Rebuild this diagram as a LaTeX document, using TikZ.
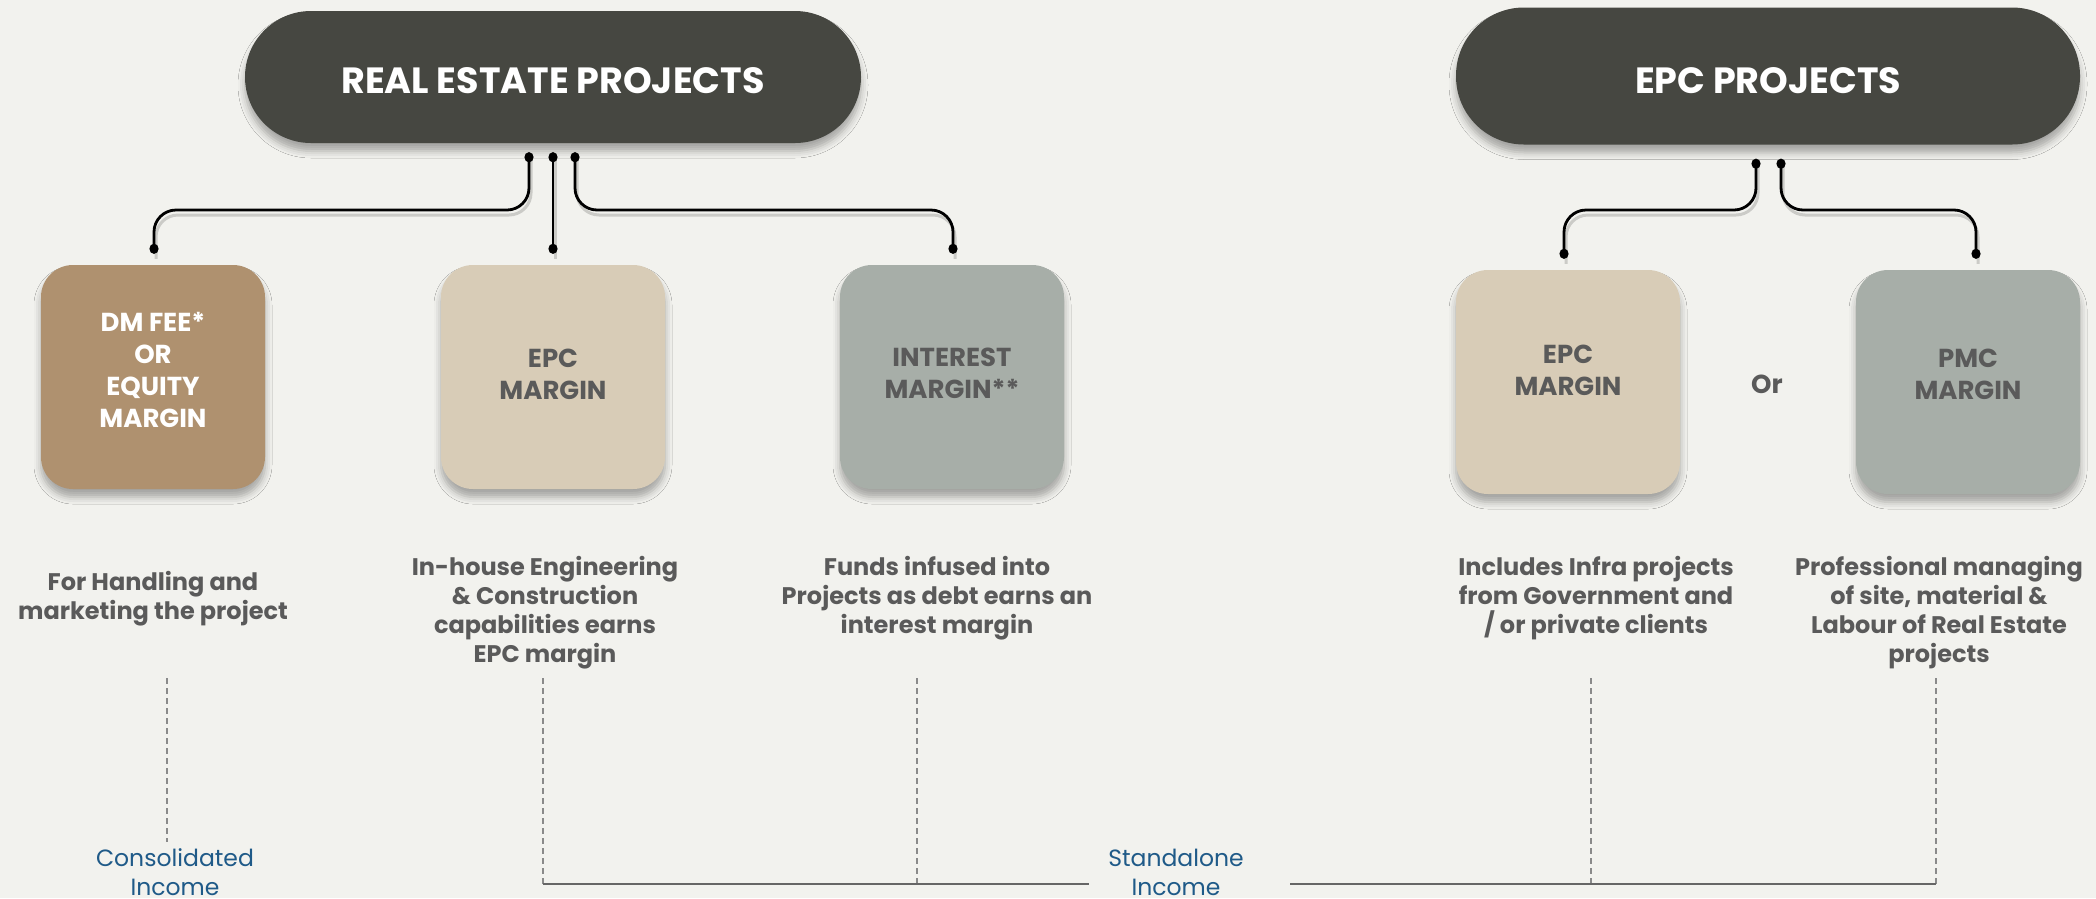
\documentclass[tikz,border=0pt]{standalone}
\usepackage{fontspec}
\setmainfont{Poppins}
\usetikzlibrary{calc,arrows.meta,shadows.blur}

\definecolor{bgcol}{HTML}{F2F2EE}
\definecolor{darkbox}{HTML}{464741}
\definecolor{tanbox}{HTML}{AF916F}
\definecolor{sandbox}{HTML}{D8CCB7}
\definecolor{sagebox}{HTML}{A7AEA8}
\definecolor{boxtext}{HTML}{5A5A5A}
\definecolor{incomeblue}{HTML}{1F5A88}
\definecolor{guidegray}{HTML}{8A8A8A}

\tikzset{
  softshadow/.style={blur shadow={shadow xshift=0pt, shadow yshift=-8pt,
      shadow blur radius=7pt, shadow opacity=32}},
  headbox/.style={fill=darkbox, rounded corners=66pt, minimum width=616pt,
      minimum height=132pt, softshadow},
  headtext/.style={text=white, font=\bfseries\fontsize{36.5}{42}\selectfont},
  marginbox/.style={rounded corners=32pt, minimum width=224pt, minimum height=224pt,
      softshadow},
  boxlabel/.style={align=center, text=boxtext, font=\bfseries\fontsize{26}{32}\selectfont,
      text depth=0pt},
  desc/.style={align=center, text=boxtext, font=\bfseries\fontsize{24}{29}\selectfont},
  income/.style={align=center, text=incomeblue, font=\fontsize{23.5}{29}\selectfont},
  link/.style={line width=2.8pt, black, rounded corners=22pt,
      {Circle[length=10pt,width=9pt]}-{Circle[length=10pt,width=9pt]}},
  linkshadow/.style={line width=3pt, black, opacity=0.16, rounded corners=22pt},
  guide/.style={guidegray, line width=1.2pt, dash pattern=on 6pt off 4pt},
  baseline/.style={black!60, line width=1.6pt},
}

\begin{document}
\begin{tikzpicture}[x=1pt,y=-1pt]
  % canvas
  \fill[bgcol] (0,0) rectangle (2096,898);
  \useasboundingbox (0,0) rectangle (2096,898);

  % top-level project groups
  \node[headbox] (re) at (553,77) {};
  \node[headbox, minimum width=624pt, minimum height=137pt, rounded corners=68pt] (epc) at (1768,76) {};
  \node[headtext] (reText) at ($(re.center)+(0,4)$) {REAL ESTATE PROJECTS};
  \node[headtext] (epcText) at ($(epc.center)+(0,5)$) {EPC PROJECTS};

  % income streams
  \node[marginbox, fill=tanbox] (dm) at (153,377) {};
  \node[marginbox, fill=sandbox] (epcm) at (553,377) {};
  \node[marginbox, fill=sagebox] (intm) at (952,377) {};
  \node[marginbox, fill=sandbox] (epcm2) at (1568,382) {};
  \node[marginbox, fill=sagebox] (pmc) at (1968,382) {};
  \node[boxlabel, text=white] (dmText) at ($(dm.center)+(0,-7)$) {DM FEE*\\OR\\EQUITY\\MARGIN};
  \node[boxlabel] (epcmText) at ($(epcm.center)+(0,-3)$) {EPC\\MARGIN};
  \node[boxlabel] (intmText) at ($(intm.center)+(0,-4)$) {INTEREST\\MARGIN**};
  \node[boxlabel] (epcm2Text) at ($(epcm2.center)+(0,-12)$) {EPC\\MARGIN};
  \node[boxlabel] (pmcText) at ($(pmc.center)+(0,-8)$) {PMC\\MARGIN};
  \node[boxlabel] (or) at (1767,384) {Or};

  % connector end points
  \coordinate (reA) at ($(re.south)+(-24,9)$);
  \coordinate (reB) at ($(re.south)+(0,9)$);
  \coordinate (reC) at ($(re.south)+(22,9)$);
  \coordinate (dmT) at ($(dm.north)+(1,-11)$);
  \coordinate (epcmT) at ($(epcm.north)+(0,-11)$);
  \coordinate (intmT) at ($(intm.north)+(1,-11)$);
  \coordinate (epcA) at ($(epc.south)+(-12,14)$);
  \coordinate (epcB) at ($(epc.south)+(13,14)$);
  \coordinate (epcm2T) at ($(epcm2.north)+(-4,-11)$);
  \coordinate (pmcT) at ($(pmc.north)+(8,-11)$);

  % connector shadows
  \draw[linkshadow] ($(reA)+(2,5)$) -- ($(reA|-0,210)+(2,5)$) -- ($(dmT|-0,210)+(2,5)$) -- ($(dmT)+(2,5)$);
  \draw[linkshadow] ($(reB)+(2,5)$) -- ($(epcmT)+(2,5)$);
  \draw[linkshadow] ($(reC)+(2,5)$) -- ($(reC|-0,210)+(2,5)$) -- ($(intmT|-0,210)+(2,5)$) -- ($(intmT)+(2,5)$);
  \draw[linkshadow] ($(epcA)+(2,5)$) -- ($(epcA|-0,210)+(2,5)$) -- ($(epcm2T|-0,210)+(2,5)$) -- ($(epcm2T)+(2,5)$);
  \draw[linkshadow] ($(epcB)+(2,5)$) -- ($(epcB|-0,210)+(2,5)$) -- ($(pmcT|-0,210)+(2,5)$) -- ($(pmcT)+(2,5)$);

  % connectors
  \draw[link] (reA) -- (reA|-0,210) -- (dmT|-0,210) -- (dmT);
  \draw[link] (reB) -- (epcmT);
  \draw[link] (reC) -- (reC|-0,210) -- (intmT|-0,210) -- (intmT);
  \draw[link] (epcA) -- (epcA|-0,210) -- (epcm2T|-0,210) -- (epcm2T);
  \draw[link] (epcB) -- (epcB|-0,210) -- (pmcT|-0,210) -- (pmcT);

  % descriptions
  \node[desc, anchor=north] (d1) at (153,568) {For Handling and\\marketing the project};
  \node[desc, anchor=north] (d2) at (545,553) {In-house Engineering\\\& Construction\\capabilities earns\\EPC margin};
  \node[desc, anchor=north] (d3) at (937,553) {Funds infused into\\Projects as debt earns an\\interest margin};
  \node[desc, anchor=north] (d4) at (1596,553) {Includes Infra projects\\from Government and\\/ or private clients};
  \node[desc, anchor=north] (d5) at (1939,553) {Professional managing\\of site, material \&\\Labour of Real Estate\\projects};

  % income labels
  \node[income] (cons) at (175,872) {Consolidated\\Income};
  \node[income] (stand) at (1176,872) {Standalone\\Income};

  % guide lines
  \coordinate (g1t) at (167,678);  \coordinate (g1b) at (167,842);
  \coordinate (g2t) at (543,678);  \coordinate (g2b) at (543,884);
  \coordinate (g3t) at (917,678);  \coordinate (g3b) at (917,884);
  \coordinate (g4t) at (1591,678); \coordinate (g4b) at (1591,884);
  \coordinate (g5t) at (1936,678); \coordinate (g5b) at (1936,884);
  \draw[guide] (g1t) -- (g1b);
  \draw[guide] (g2t) -- (g2b);
  \draw[guide] (g3t) -- (g3b);
  \draw[guide] (g4t) -- (g4b);
  \draw[guide] (g5t) -- (g5b);
  \coordinate (b1e) at (1089,884);
  \coordinate (b2s) at (1290,884);
  \draw[baseline] (g2b) -- (b1e);
  \draw[baseline] (b2s) -- (g5b);
\end{tikzpicture}
\end{document}
